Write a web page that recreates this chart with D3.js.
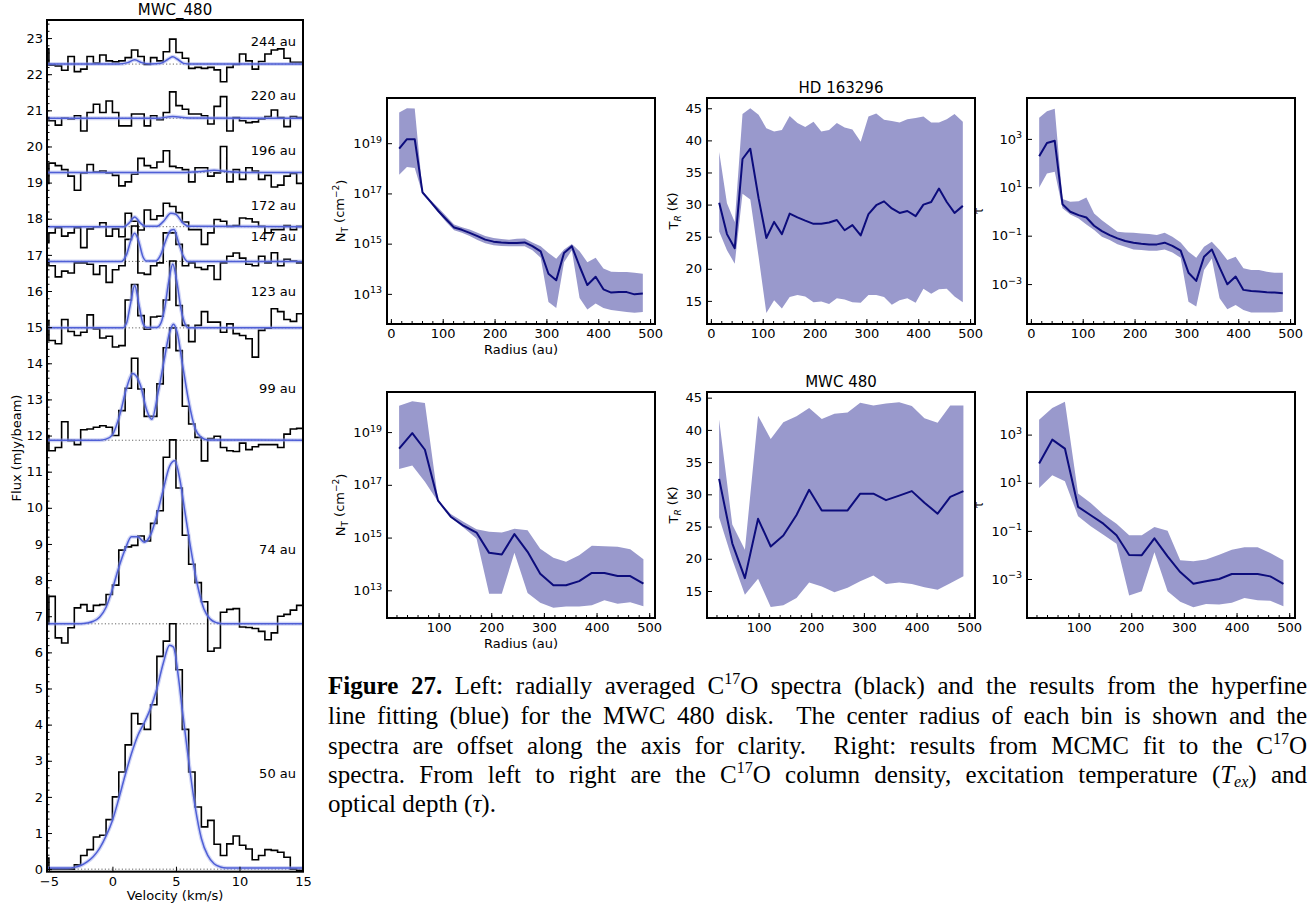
<!DOCTYPE html>
<html><head><meta charset="utf-8">
<script src="https://cdn.jsdelivr.net/npm/d3@7"></script>
<style>
body{margin:0;background:#fff;}
</style>
</head><body>
<svg id="c" width="1315" height="911" xmlns="http://www.w3.org/2000/svg" font-family="DejaVu Sans"></svg>
<script>
// ================= LEFT PANEL DATA (MWC_480 spectra) =================
const velocity = [-5.25,-4.75,-4.25,-3.75,-3.25,-2.75,-2.25,-1.75,-1.25,-0.75,-0.25,0.25,0.75,1.25,1.75,2.25,2.75,3.25,3.75,4.25,4.75,5.25,5.75,6.25,6.75,7.25,7.75,8.25,8.75,9.25,9.75,10.25,10.75,11.25,11.75,12.25,12.75,13.25,13.75,14.25,14.75,15.25];
const specLabels = ["50 au","74 au","99 au","123 au","147 au","172 au","196 au","220 au","244 au"];
const specBaselines = [0,6.79,11.87,14.98,16.82,17.78,19.28,20.78,22.28];
const specLabelY = [2.66,8.86,13.3,15.98,17.52,18.38,19.9,21.4,22.9];

const spec50 = [0.31, 0.0,0.0,0.0,0.0,0.12,0.38,0.54,0.89,0.94,1.37, 2.00,2.69,3.44,4.31,4.02,3.87,4.55,5.89,6.31,6.79, 5.52,3.87,2.69,1.72,1.17,1.35,0.69,0.38,0.70,0.92, 0.66,0.56,0.26,0.38,0.54,0.52,0.47,0.33,0.0,-0.03, 0.0];
const spec74 = [6.81, 7.55,6.40,6.26,6.68,7.23,7.32,7.14,7.30,7.32,7.60, 7.86,8.83,8.92,8.96,9.22,9.08,9.57,9.92,11.40,11.88, 10.55,9.24,8.44,7.93,7.40,6.03,6.12,7.11,7.19,7.21, 6.70,6.69,6.66,6.58,6.35,6.54,7.00,7.05,7.17,7.30, 7.25];
const spec99 = [12.00, 11.58,11.67,12.38,11.86,11.75,12.16,12.18,12.23,12.27,12.23, 12.00,12.69,13.31,14.14,13.29,12.53,12.53,13.43,14.43,14.98, 14.35,12.81,12.32,11.95,11.30,11.92,11.98,11.67,11.58,11.56, 11.79,11.61,11.69,11.75,11.75,11.75,11.67,12.04,12.18,12.20, 12.10];
const spec123 = [15.18, 14.63,14.54,15.21,14.88,14.77,14.86,15.34,14.95,14.70,14.75, 14.45,14.49,15.75,16.18,15.32,14.94,15.28,15.30,15.75,16.83, 15.60,15.05,14.60,15.05,15.43,15.14,15.14,14.86,15.09,14.82, 14.77,14.68,14.17,14.91,14.97,15.51,15.43,15.21,15.16,15.37, 15.30];
const spec147 = [16.88, 16.70,16.39,16.55,16.50,16.78,16.78,16.74,16.46,16.70,16.24, 16.59,16.70,17.43,17.80,16.50,16.46,16.70,16.78,17.61,17.61, 17.29,16.70,16.78,16.65,16.60,16.70,16.32,16.78,16.96,17.05, 16.91,16.74,16.70,16.96,16.78,17.06,16.70,16.88,16.83,16.78, 16.82];
const spec172 = [17.34, 17.61,17.75,17.52,17.61,17.75,17.20,17.72,17.78,17.89,17.52, 17.72,17.50,18.15,17.93,17.69,18.24,17.98,18.08,18.43,18.34, 18.17,17.91,17.70,17.70,17.29,17.61,17.98,17.93,17.79,17.81, 18.02,18.00,17.91,17.79,17.61,17.70,17.70,17.81,17.70,17.79, 17.79];
const spec196 = [18.98, 19.54,19.47,19.36,19.18,18.79,19.27,19.50,19.29,19.32,19.27, 19.20,18.91,19.02,19.23,19.67,19.47,19.41,19.57,19.88,19.45, 19.41,19.36,19.02,19.41,19.41,19.18,19.27,20.00,19.02,19.36, 19.09,19.41,19.32,19.09,19.20,18.88,18.93,19.18,19.25,18.98, 19.09];
const spec220 = [20.80, 20.71,20.59,20.78,20.76,20.85,20.43,20.94,21.17,20.94,21.26, 20.94,20.57,20.57,20.90,20.90,20.57,20.85,20.74,20.94,21.51, 21.13,21.03,20.90,20.90,20.85,20.62,21.11,21.38,20.43,20.80, 20.71,20.66,20.68,20.76,20.83,21.01,20.80,20.55,20.83,20.80, 20.76];
const spec244 = [22.70, 22.25,22.23,22.11,22.49,22.07,22.14,22.49,22.31,22.53,22.37, 22.34,22.37,22.46,22.67,22.49,22.27,22.46,22.37,22.62,22.97, 22.60,22.44,22.16,22.19,22.16,22.19,22.12,21.79,22.19,22.27, 22.56,22.37,22.14,22.35,22.56,22.67,22.70,22.44,22.33,22.33, 22.19];

// hyperfine fits: [velocity, flux]
const fit50 = [[-5.3,0.03],[-3.5,0.03],[-3,0.05],[-2.5,0.1],[-2,0.2],[-1.5,0.35],[-1,0.58],[-0.5,0.92],[0,1.35],[0.5,1.95],[1,2.6],[1.5,3.2],[2,3.7],[2.5,4.05],[3,4.45],[3.5,5.0],[4,5.7],[4.5,6.2],[4.8,6.15],[5.2,5.3],[5.5,4.4],[6,3.0],[6.5,1.75],[7,0.85],[7.5,0.38],[8,0.15],[8.5,0.06],[9,0.03],[15.3,0.03]];
const fit74 = [[-5.3,6.79],[-2.5,6.79],[-2,6.81],[-1.5,6.86],[-1,6.98],[-0.5,7.25],[0,7.75],[0.5,8.35],[1,8.85],[1.5,9.2],[2,9.2],[2.5,9.05],[3,9.25],[3.5,9.8],[4,10.5],[4.5,11.15],[4.9,11.3],[5.3,10.8],[5.7,9.9],[6.2,8.8],[6.7,7.85],[7.2,7.2],[7.7,6.92],[8.2,6.82],[8.7,6.79],[15.3,6.79]];
const fit99 = [[-5.3,11.87],[-1,11.87],[-0.5,11.9],[0,12.02],[0.6,12.6],[1.1,13.3],[1.6,13.72],[2.2,13.4],[2.7,12.7],[3.1,12.45],[3.6,13.2],[4.0,13.95],[4.5,14.85],[4.8,15.08],[5.1,14.85],[5.5,14.0],[6,12.95],[6.5,12.2],[7,11.95],[7.5,11.88],[15.3,11.87]];
const fit123 = [[-5.3,14.98],[0.8,14.98],[1.1,15.1],[1.4,15.6],[1.75,16.15],[2.1,15.6],[2.4,15.1],[2.7,14.99],[3.5,14.99],[3.8,15.1],[4.1,15.5],[4.45,16.3],[4.75,16.75],[5.05,16.3],[5.4,15.5],[5.7,15.1],[6.0,14.98],[15.3,14.98]];
const fit147 = [[-5.3,16.82],[0.7,16.82],[1.1,17.0],[1.45,17.4],[1.75,17.6],[2.05,17.4],[2.4,16.95],[2.7,16.83],[3.4,16.83],[3.8,17.0],[4.2,17.4],[4.6,17.68],[4.85,17.7],[5.2,17.35],[5.6,16.95],[5.9,16.82],[15.3,16.82]];
const fit172 = [[-5.3,17.78],[0.9,17.78],[1.3,17.88],[1.75,18.05],[2.2,17.88],[2.6,17.79],[3.5,17.79],[4.0,17.92],[4.6,18.15],[5.0,18.12],[5.5,17.9],[6.0,17.79],[15.3,17.78]];
const fit196 = [[-5.3,19.28],[5.5,19.28],[7.0,19.31],[8.0,19.34],[9.0,19.31],[10.5,19.28],[15.3,19.28]];
const fit220 = [[-5.3,20.78],[3.5,20.78],[4.75,20.83],[6.0,20.79],[15.3,20.78]];
const fit244 = [[-5.3,22.28],[0.5,22.28],[1.2,22.32],[1.75,22.4],[2.3,22.32],[3.0,22.28],[3.8,22.3],[4.4,22.42],[4.75,22.48],[5.1,22.42],[5.6,22.3],[6.2,22.28],[15.3,22.28]];

const fluxTicks = [0,1,2,3,4,5,6,7,8,9,10,11,12,13,14,15,16,17,18,19,20,21,22,23];
const velocityTicks = [-5,0,5,10,15];

// ================= RIGHT PANELS DATA =================
const hdRadius = [16,31,46,61,76,92,107,122,137,152,167,182,198,213,228,243,258,273,289,304,319,334,349,364,379,395,410,425,440,455,470,486];
const hdNT_log10   = [18.78,19.16,19.16,17.04,16.68,16.29,15.96,15.64,15.55,15.43,15.30,15.16,15.08,15.05,15.03,15.03,15.05,14.90,14.69,13.80,13.54,14.63,14.90,14.10,13.35,13.68,13.18,13.05,13.07,13.07,12.98,13.01];
const hdNTlo_log10 = [17.74,18.05,18.01,16.98,16.62,16.22,15.85,15.53,15.43,15.30,15.15,15.02,14.94,14.91,14.90,14.90,14.90,14.74,14.44,12.68,12.44,14.26,14.74,12.84,12.38,12.62,12.44,12.36,12.32,12.28,12.25,12.28];
const hdNThi_log10 = [20.22,20.39,20.38,17.10,16.75,16.42,16.09,15.76,15.65,15.56,15.43,15.30,15.22,15.18,15.16,15.19,15.20,15.05,14.90,14.63,14.40,14.77,14.99,14.70,14.26,14.44,14.01,13.88,13.87,13.87,13.84,13.80];
const hdTR   = [30.3,25.4,23.2,37.1,38.7,31.0,24.8,27.3,25.4,28.6,28.0,27.5,27.0,27.0,27.2,27.6,26.0,26.8,25.2,28.5,29.9,30.5,29.4,28.7,29.0,28.2,30.0,30.4,32.5,30.4,28.7,29.8];
const hdTRlo = [25.8,22.9,20.8,31.7,30.8,21.9,13.1,15.1,13.8,15.6,15.9,15.7,14.8,14.9,14.5,15.4,15.2,14.8,14.7,15.9,15.9,15.6,14.4,15.1,15.4,14.7,16.9,16.1,16.8,16.9,15.7,14.8];
const hdTRhi = [38.2,30.2,27.3,44.1,45.0,44.0,41.9,41.4,41.6,43.8,42.7,42.1,42.9,41.4,41.6,42.7,42.0,41.7,39.8,43.7,44.2,43.2,43.0,42.8,43.3,43.5,43.7,42.8,42.8,43.3,44.1,42.9];
const hdTau_log10   = [2.28,2.83,2.92,0.30,-0.01,-0.15,-0.25,-0.59,-0.81,-0.98,-1.11,-1.22,-1.29,-1.33,-1.36,-1.36,-1.29,-1.42,-1.62,-2.53,-2.87,-1.87,-1.57,-2.31,-3.01,-2.69,-3.24,-3.29,-3.31,-3.34,-3.35,-3.38];
const hdTaulo_log10 = [0.99,1.57,1.64,0.13,-0.12,-0.29,-0.54,-0.77,-1.04,-1.18,-1.35,-1.46,-1.57,-1.59,-1.62,-1.62,-1.57,-1.70,-1.91,-3.73,-3.93,-2.42,-1.94,-3.59,-4.04,-3.86,-4.07,-4.17,-4.17,-4.17,-4.17,-4.14];
const hdTauhi_log10 = [3.87,4.14,4.25,0.52,0.40,0.42,0.58,-0.08,-0.36,-0.60,-0.84,-0.87,-0.88,-0.91,-0.93,-0.97,-0.88,-1.04,-1.28,-1.66,-1.91,-1.46,-1.25,-1.59,-2.01,-1.87,-2.35,-2.42,-2.42,-2.49,-2.53,-2.53];

const mwcRadius = [25,50,74,99,123,147,172,196,220,244,269,293,318,342,367,391,415,440,464,489];
const mwcNT_log10   = [18.37,18.96,18.33,16.40,15.79,15.45,15.19,14.42,14.36,15.13,14.46,13.63,13.19,13.19,13.35,13.66,13.66,13.54,13.54,13.25];
const mwcNTlo_log10 = [17.60,17.73,17.12,16.36,15.76,15.38,14.96,12.87,12.87,14.42,12.90,12.53,12.34,12.39,12.39,12.43,12.62,12.49,12.55,12.40];
const mwcNThi_log10 = [20.00,20.17,20.10,16.42,15.89,15.60,15.32,15.22,15.19,15.33,15.28,14.58,14.23,14.08,14.33,14.69,14.67,14.65,14.56,14.18];
const mwcTR   = [32.4,22.4,17.0,26.2,21.9,23.6,26.8,30.7,27.5,27.5,27.5,30.1,30.1,29.1,29.8,30.5,28.7,27.0,29.6,30.5];
const mwcTRlo = [26.4,19.9,14.4,16.9,12.5,12.8,13.9,16.3,15.7,14.8,15.5,16.5,17.4,16.1,16.3,16.1,15.6,15.2,16.2,17.3];
const mwcTRhi = [41.6,25.3,21.4,42.2,38.6,41.2,42.1,43.4,41.7,42.5,42.7,44.2,43.8,44.1,44.3,43.7,41.8,41.1,43.8,43.8];
const mwcTau_log10   = [1.80,2.79,2.42,0.00,-0.35,-0.70,-1.18,-2.00,-2.01,-1.31,-2.06,-2.71,-3.20,-3.09,-3.00,-2.79,-2.79,-2.79,-2.89,-3.20];
const mwcTaulo_log10 = [0.78,1.31,1.06,-0.39,-0.81,-1.16,-1.53,-3.69,-3.51,-1.89,-3.51,-3.95,-4.17,-4.04,-4.06,-3.99,-3.79,-3.88,-3.90,-4.13];
const mwcTauhi_log10 = [3.62,4.11,4.36,0.55,0.16,-0.32,-0.70,-1.18,-1.18,-0.84,-0.99,-2.22,-2.26,-2.19,-1.99,-1.78,-1.68,-1.68,-1.92,-2.22];

const radiusTicks = [0,100,200,300,400,500];
const ntTicks = [1e13,1e15,1e17,1e19];
const trTicks = [15,20,25,30,35,40,45];
const tauTicks = [1e-3,1e-1,1e1,1e3];

const captionLines = [
 [{t:"Figure 27.",b:1},{t:" Left: radially averaged C"},{t:"17",sup:1},{t:"O spectra (black) and the results from the hyperfine"}],
 [{t:"line fitting (blue) for the MWC 480 disk.  The center radius of each bin is shown and the"}],
 [{t:"spectra are offset along the axis for clarity.  Right: results from MCMC fit to the C"},{t:"17",sup:1},{t:"O"}],
 [{t:"spectra. From left to right are the C"},{t:"17",sup:1},{t:"O column density, excitation temperature ("},{t:"T",i:1},{t:"ex",i:1,sub:1},{t:") and"}],
 [{t:"optical depth ("},{t:"τ",i:1},{t:")."}]
];

// ================= DRAWING =================
const svg = d3.select("#c");
const defs = svg.append("defs");
const FONT = "DejaVu Sans";

function styleAxis(g, size){
  g.select(".domain").remove();
  g.attr("font-family", FONT).attr("font-size", size);
  g.selectAll(".tick line").attr("stroke","#000").attr("stroke-width",1);
  g.selectAll(".tick text").attr("fill","#000");
}

// ---------- Left panel ----------
const L = {x0:47, x1:303, y0:20, y1:871.7};
const xV = d3.scaleLinear().domain([-5.15,15]).range([L.x0,L.x1]);
const yF = d3.scaleLinear().domain([-0.07,23.5]).range([L.y1,L.y0]);
defs.append("clipPath").attr("id","clipL").append("rect")
  .attr("x",L.x0).attr("y",L.y0).attr("width",L.x1-L.x0).attr("height",L.y1-L.y0);
const gL = svg.append("g");
const gLc = gL.append("g").attr("clip-path","url(#clipL)");

specBaselines.forEach(b=>{
  gLc.append("line").attr("x1",L.x0).attr("x2",L.x1).attr("y1",yF(b)).attr("y2",yF(b))
    .attr("stroke","#555").attr("stroke-width",0.9).attr("stroke-dasharray","1.2,2.2");
});
const spectra = [spec50,spec74,spec99,spec123,spec147,spec172,spec196,spec220,spec244];
const fits = [fit50,fit74,fit99,fit123,fit147,fit172,fit196,fit220,fit244];
const specLine = d3.line().x((d,i)=>xV(velocity[i])).y(d=>yF(d)).curve(d3.curveStep);
spectra.forEach(s=>{
  gLc.append("path").datum(s).attr("d",specLine).attr("fill","none")
    .attr("stroke","#000").attr("stroke-width",1.6);
});
const fitLine = d3.line().x(d=>xV(d[0])).y(d=>yF(d[1])).curve(d3.curveMonotoneX);
fits.forEach(f=>{
  gLc.append("path").datum(f).attr("d",fitLine).attr("fill","none")
    .attr("stroke","#9aa3ea").attr("stroke-opacity",0.45).attr("stroke-width",4);
  gLc.append("path").datum(f).attr("d",fitLine).attr("fill","none")
    .attr("stroke","#4f5fd6").attr("stroke-width",1.5);
});
specLabels.forEach((lab,i)=>{
  gL.append("text").attr("x",296).attr("y",yF(specLabelY[i])).attr("dy","0.35em")
    .attr("text-anchor","end").attr("font-size",13).attr("fill","#000").text(lab);
});
// axes
gL.append("g").attr("transform",`translate(${L.x0},0)`)
  .call(d3.axisLeft(yF).tickValues(d3.range(0,23.41,0.2)).tickSize(-2.5).tickFormat(""))
  .call(g=>styleAxis(g,13));
gL.append("g").attr("transform",`translate(${L.x0},0)`)
  .call(d3.axisLeft(yF).tickValues(fluxTicks).tickSize(-5).tickPadding(4).tickFormat(d3.format("d")))
  .call(g=>styleAxis(g,13));
gL.append("g").attr("transform",`translate(0,${L.y1})`)
  .call(d3.axisBottom(xV).tickValues(velocityTicks).tickSize(-5).tickPadding(5).tickFormat(d3.format("d")))
  .call(g=>styleAxis(g,13));
gL.append("rect").attr("x",L.x0).attr("y",L.y0).attr("width",L.x1-L.x0).attr("height",L.y1-L.y0)
  .attr("fill","none").attr("stroke","#000").attr("stroke-width",2);
gL.append("text").attr("x",175).attr("y",15).attr("text-anchor","middle").attr("font-size",15).text("MWC_480");
gL.append("text").attr("x",175).attr("y",900).attr("text-anchor","middle").attr("font-size",13).text("Velocity (km/s)");
gL.append("text").attr("transform","translate(21,448) rotate(-90)").attr("text-anchor","middle").attr("font-size",13).text("Flux (mJy/beam)");

// ---------- Right panels ----------
const pow10 = v=>Math.pow(10,v);
function supLabel(sel){
  sel.each(function(d){
    const e = Math.round(Math.log10(d));
    const t = d3.select(this); t.text("10");
    t.append("tspan").attr("dy","-0.55em").attr("font-size",9.5).text(e<0?"\u2212"+(-e):String(e));
  });
}
let clipN=0;
function panel(p){
  const g = svg.append("g");
  const x = d3.scaleLinear().domain(p.xDomain).range([p.x0,p.x1]);
  const y = (p.log?d3.scaleLog():d3.scaleLinear()).domain(p.yDomain).range([p.y1,p.y0]);
  const cv = p.log?pow10:(v=>v);
  const id="clipP"+(clipN++);
  defs.append("clipPath").attr("id",id).append("rect")
    .attr("x",p.x0).attr("y",p.y0).attr("width",p.x1-p.x0).attr("height",p.y1-p.y0);
  const gc = g.append("g").attr("clip-path",`url(#${id})`);
  const rows = p.r.map((r,i)=>({r, lo:cv(p.lo[i]), hi:cv(p.hi[i]), m:cv(p.mid[i])}));
  gc.append("path").datum(rows)
    .attr("d",d3.area().x(d=>x(d.r)).y0(d=>y(d.lo)).y1(d=>y(d.hi)))
    .attr("fill","#9999cc").attr("stroke","none");
  gc.append("path").datum(rows)
    .attr("d",d3.line().x(d=>x(d.r)).y(d=>y(d.m)))
    .attr("fill","none").attr("stroke","#0c0c7c").attr("stroke-width",2).attr("stroke-linejoin","round");
  // x axis
  const inX = v=>v>=p.xDomain[0]&&v<=p.xDomain[1];
  g.append("g").attr("transform",`translate(0,${p.y1})`)
    .call(d3.axisBottom(x).tickValues(d3.range(0,520,20).filter(inX)).tickSize(-3).tickFormat(""))
    .call(s=>styleAxis(s,13));
  g.append("g").attr("transform",`translate(0,${p.y1})`)
    .call(d3.axisBottom(x).tickValues(radiusTicks.filter(inX)).tickSize(-5).tickPadding(5).tickFormat(d3.format("d")))
    .call(s=>styleAxis(s,13));
  // y axis
  const ya = g.append("g").attr("transform",`translate(${p.x0},0)`);
  if(p.log){
    ya.call(d3.axisLeft(y).tickValues(p.yTicks).tickSize(-5).tickPadding(5).tickFormat(()=>"10"))
      .call(s=>styleAxis(s,13));
    ya.selectAll(".tick text").call(supLabel);
  } else {
    ya.call(d3.axisLeft(y).tickValues(p.yTicks).tickSize(-5).tickPadding(5).tickFormat(d3.format("d")))
      .call(s=>styleAxis(s,13));
  }
  g.append("rect").attr("x",p.x0).attr("y",p.y0).attr("width",p.x1-p.x0).attr("height",p.y1-p.y0)
    .attr("fill","none").attr("stroke","#000").attr("stroke-width",2);
  const cy=(p.y0+p.y1)/2;
  const lab = g.append("text").attr("transform",`translate(${p.labX},${cy}) rotate(-90)`)
    .attr("text-anchor","middle").attr("font-size",13);
  if(p.yLabel==="NT"){
    lab.append("tspan").text("N");
    lab.append("tspan").attr("font-size",9).attr("dy","0.3em").text("T");
    lab.append("tspan").attr("dy","-0.3em").text(" (cm");
    lab.append("tspan").attr("font-size",9).attr("dy","-0.55em").text("\u22122");
    lab.append("tspan").attr("dy","0.55em").text(")");
  } else if(p.yLabel==="TR"){
    lab.append("tspan").text("T");
    lab.append("tspan").attr("font-size",9).attr("font-style","italic").attr("dy","0.3em").text("R");
    lab.append("tspan").attr("dy","-0.3em").text(" (K)");
  } else {
    lab.append("tspan").attr("font-family","DejaVu Serif").attr("font-size",12).text("\u03c4");
  }
  if(p.xLabel){
    g.append("text").attr("x",(p.x0+p.x1)/2).attr("y",p.y1+30).attr("text-anchor","middle")
      .attr("font-size",13).text("Radius (au)");
  }
  if(p.title){
    g.append("text").attr("x",(p.x0+p.x1)/2).attr("y",p.y0-5.5).attr("text-anchor","middle")
      .attr("font-size",15).text(p.title);
  }
}
const cols=[[387,655],[707,975],[1027,1295]];
const topY=[98,324], botY=[392,618];
const topXD=[-7.5,509.5], botXD=[2,511];
panel({x0:cols[0][0],x1:cols[0][1],y0:topY[0],y1:topY[1],xDomain:topXD,log:true,yDomain:[pow10(11.8),pow10(20.8)],
  r:hdRadius,mid:hdNT_log10,lo:hdNTlo_log10,hi:hdNThi_log10,yTicks:ntTicks,yLabel:"NT",labX:345,xLabel:true});
panel({x0:cols[1][0],x1:cols[1][1],y0:topY[0],y1:topY[1],xDomain:topXD,log:false,yDomain:[11.4,46.6],
  r:hdRadius,mid:hdTR,lo:hdTRlo,hi:hdTRhi,yTicks:trTicks,yLabel:"TR",labX:678,title:"HD 163296"});
panel({x0:cols[2][0],x1:cols[2][1],y0:topY[0],y1:topY[1],xDomain:topXD,log:true,yDomain:[pow10(-4.65),pow10(4.69)],
  r:hdRadius,mid:hdTau_log10,lo:hdTaulo_log10,hi:hdTauhi_log10,yTicks:tauTicks,yLabel:"tau",labX:983});
panel({x0:cols[0][0],x1:cols[0][1],y0:botY[0],y1:botY[1],xDomain:botXD,log:true,yDomain:[pow10(11.95),pow10(20.52)],
  r:mwcRadius,mid:mwcNT_log10,lo:mwcNTlo_log10,hi:mwcNThi_log10,yTicks:ntTicks,yLabel:"NT",labX:345,xLabel:true});
panel({x0:cols[1][0],x1:cols[1][1],y0:botY[0],y1:botY[1],xDomain:botXD,log:false,yDomain:[10.81,45.88],
  r:mwcRadius,mid:mwcTR,lo:mwcTRlo,hi:mwcTRhi,yTicks:trTicks,yLabel:"TR",labX:678,title:"MWC 480"});
panel({x0:cols[2][0],x1:cols[2][1],y0:botY[0],y1:botY[1],xDomain:botXD,log:true,yDomain:[pow10(-4.62),pow10(4.77)],
  r:mwcRadius,mid:mwcTau_log10,lo:mwcTaulo_log10,hi:mwcTauhi_log10,yTicks:tauTicks,yLabel:"tau",labX:983});

// ---------- Caption ----------
const capX0=328, capX1=1307, capBase=[694,724,753.5,783,812];
captionLines.forEach((segs,li)=>{
  const t = svg.append("text").attr("x",capX0).attr("y",capBase[li])
    .attr("font-family","Liberation Serif").attr("font-size",25).attr("fill","#000")
    .style("white-space","pre");
  let shift=0;
  segs.forEach(s=>{
    const ts=t.append("tspan").text(s.t);
    const target = s.sup? -10 : (s.sub? 4 : 0);
    if(target!==shift) ts.attr("dy",target-shift);
    shift=target;
    if(s.sup||s.sub) ts.attr("font-size",16);
    if(s.b) ts.attr("font-weight","bold");
    if(s.i) ts.attr("font-style","italic");
  });
  if(li<4){
    const w=t.node().getComputedTextLength();
    const txt=t.text();
    const n=(txt.match(/ /g)||[]).length;
    const extra=(capX1-capX0)-w;
    t.attr("word-spacing", extra/n);
  }
});
</script>
</body></html>
